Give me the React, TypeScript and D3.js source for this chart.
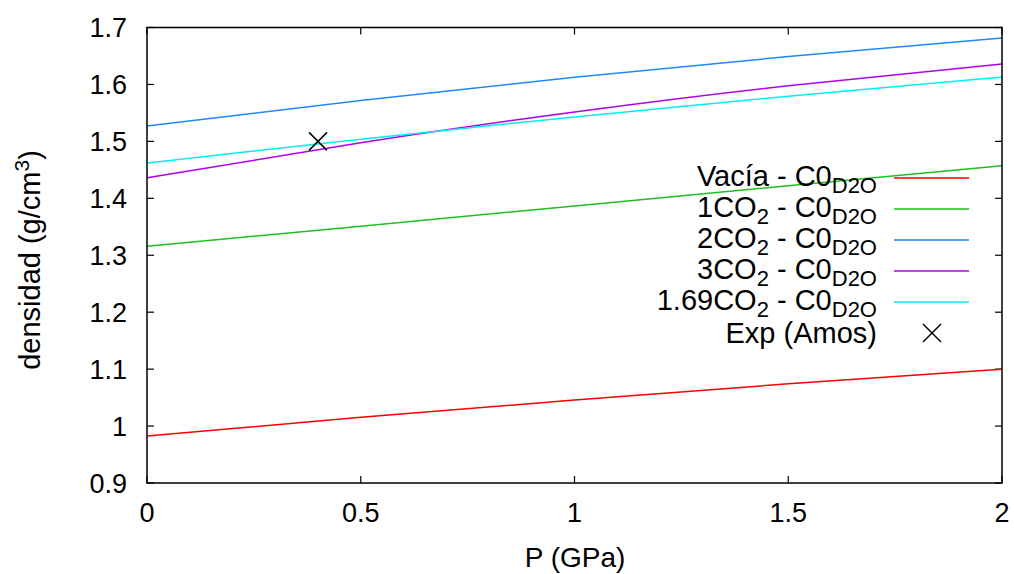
import React from "react";
import * as d3 from "d3";

const pressures = [0, 0.5, 1, 1.5, 2];
const vacia = [0.9825, 1.0153, 1.0458, 1.0741, 1.1];
const co2_1 = [1.316, 1.351, 1.3865, 1.422, 1.457];
const co2_2 = [1.527, 1.5718, 1.6125, 1.649, 1.6815];
const co2_3 = [1.436, 1.4977, 1.5516, 1.5977, 1.636];
const co2_169 = [1.462, 1.5039, 1.543, 1.5794, 1.613];
const expP = [0.4];
const expD = [1.5];

const xTicks = [0, 0.5, 1, 1.5, 2];
const yTicks = [0.9, 1, 1.1, 1.2, 1.3, 1.4, 1.5, 1.6, 1.7];

const seriesNames = ["Vacía - C0", "1CO", "2CO", "3CO", "1.69CO"];
const seriesColors = ["#ff0000", "#1fc11f", "#1e88ff", "#b000f0", "#00eef0"];
const seriesData = [vacia, co2_1, co2_2, co2_3, co2_169];

const W = 1014, H = 574;
const L = 147, R = 1002, T = 27.5, B = 483;
const FONT = "'Liberation Sans', Arial, sans-serif";

export default function App() {
  const x = d3.scaleLinear().domain([0, 2]).range([L, R]);
  const y = d3.scaleLinear().domain([0.9, 1.7]).range([B, T]);
  const line = d3
    .line<number>()
    .x((_, i) => x(pressures[i]))
    .y((d) => y(d))
    .curve(d3.curveNatural);

  const legX1 = 894, legX2 = 969, legTextX = 877;
  const legY0 = 178, legDy = 31;
  const sub = 22;

  return (
    <svg width={W} height={H} style={{ position: "absolute", left: 0, top: 0, background: "#fff" }} fontFamily={FONT}>
      <rect x={0} y={0} width={W} height={H} fill="#fff" />
      {yTicks.map((t) => (
        <g key={"y" + t}>
          <line x1={L} x2={L + 7} y1={y(t)} y2={y(t)} stroke="#000" strokeWidth={1.2} />
          <line x1={R} x2={R - 7} y1={y(t)} y2={y(t)} stroke="#000" strokeWidth={1.2} />
          <text x={127} y={y(t) + 9.5} fontSize={27} textAnchor="end" fill="#000">
            {d3.format("~g")(t)}
          </text>
        </g>
      ))}
      {xTicks.map((t) => (
        <g key={"x" + t}>
          <line x1={x(t)} x2={x(t)} y1={B} y2={B - 7} stroke="#000" strokeWidth={1.2} />
          <line x1={x(t)} x2={x(t)} y1={T} y2={T + 7} stroke="#000" strokeWidth={1.2} />
          <text x={x(t)} y={522} fontSize={27} textAnchor="middle" fill="#000">
            {d3.format("~g")(t)}
          </text>
        </g>
      ))}
      {seriesData.map((s, i) => (
        <path key={i} d={line(s) || ""} fill="none" stroke={seriesColors[i]} strokeWidth={1.5} />
      ))}
      {expP.map((p, i) => (
        <g key={"e" + i} stroke="#000" strokeWidth={1.5}>
          <line x1={x(p) - 9} x2={x(p) + 9} y1={y(expD[i]) - 9} y2={y(expD[i]) + 9} />
          <line x1={x(p) - 9} x2={x(p) + 9} y1={y(expD[i]) + 9} y2={y(expD[i]) - 9} />
        </g>
      ))}
      <rect x={L} y={T} width={R - L} height={B - T} fill="none" stroke="#000" strokeWidth={1.5} />
      {seriesNames.map((n, i) => {
        const ly = legY0 + i * legDy;
        return (
          <g key={"l" + i}>
            <text x={legTextX} y={ly + 8} fontSize={29} textAnchor="end" fill="#000">
              {i === 0 ? (
                <>
                  {n}
                  <tspan fontSize={sub} dy={7}>D2O</tspan>
                </>
              ) : (
                <>
                  {n}
                  <tspan fontSize={sub} dy={7}>2</tspan>
                  <tspan dy={-7}> - C0</tspan>
                  <tspan fontSize={sub} dy={7}>D2O</tspan>
                </>
              )}
            </text>
            <line x1={legX1} x2={legX2} y1={ly} y2={ly} stroke={seriesColors[i]} strokeWidth={1.5} />
          </g>
        );
      })}
      <text x={877} y={legY0 + 5 * legDy + 10} fontSize={29} textAnchor="end" fill="#000">
        Exp (Amos)
      </text>
      <g stroke="#000" strokeWidth={1.5}>
        <line x1={923} x2={941} y1={legY0 + 5 * legDy - 9} y2={legY0 + 5 * legDy + 9} />
        <line x1={923} x2={941} y1={legY0 + 5 * legDy + 9} y2={legY0 + 5 * legDy - 9} />
      </g>
      <text x={575} y={567} fontSize={28} textAnchor="middle" fill="#000">
        P (GPa)
      </text>
      <text transform="translate(40,260) rotate(-90)" fontSize={29} textAnchor="middle" fill="#000">
        densidad (g/cm<tspan fontSize={21} dy={-11}>3</tspan>
        <tspan dy={11}>)</tspan>
      </text>
    </svg>
  );
}
